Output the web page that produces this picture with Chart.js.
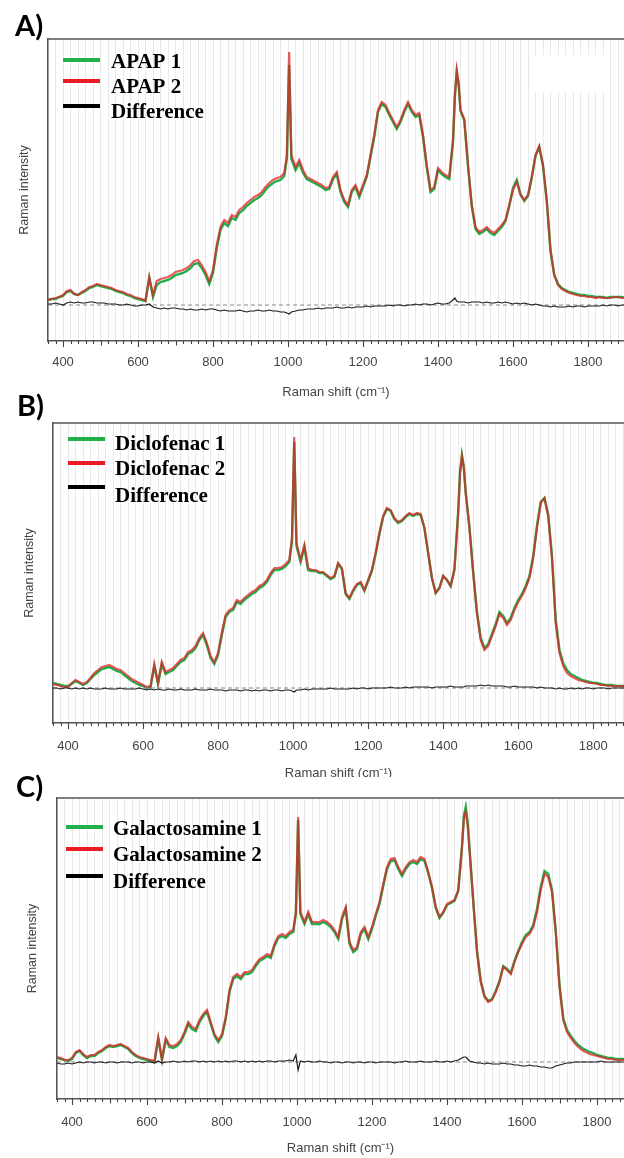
<!DOCTYPE html>
<html>
<head>
<meta charset="utf-8">
<script src="https://cdn.jsdelivr.net/npm/chart.js@4.4.0/dist/chart.umd.min.js"></script>
<style>
  html, body { margin: 0; padding: 0; background: #fff; }
  body { width: 624px; height: 1158px; position: relative; overflow: hidden; }
  .panel { position: absolute; left: 0; width: 624px; }
  .panel canvas { display: block; }
  #pA { top: 0; height: 400px; z-index: 1; }
  #pB { top: 400px; height: 390px; z-index: 2; }
  #pC { top: 777px; height: 381px; z-index: 3; background: #fff; }
  .tag { position: absolute; z-index: 5; font-family: 'Lato', 'Open Sans', 'Liberation Sans', sans-serif;
         font-weight: 700; font-size: 29px; line-height: 28px; color: #000; }
</style>
</head>
<body>
<div class="panel" id="pA"><canvas id="chartA" width="624" height="400"></canvas></div>
<div class="panel" id="pB"><canvas id="chartB" width="624" height="390"></canvas></div>
<div class="panel" id="pC"><canvas id="chartC" width="624" height="381"></canvas></div>
<div class="tag" style="left:15px;top:11px">A)</div>
<div class="tag" style="left:17px;top:391px">B)</div>
<div class="tag" style="left:16px;top:772px">C)</div>

<script>
// Raman shift sampling (cm-1), shared by all three panels
const ramanShift = [
  360, 370, 380, 390, 400, 410, 420, 430, 440, 450,
  460, 470, 480, 490, 500, 510, 520, 530, 540, 550,
  560, 570, 580, 590, 600, 610, 620, 630, 640, 650,
  660, 670, 680, 690, 700, 710, 720, 730, 740, 750,
  760, 770, 780, 790, 800, 810, 820, 830, 840, 850,
  860, 870, 880, 890, 900, 910, 920, 930, 940, 950,
  960, 970, 980, 990, 997, 1003, 1009, 1020, 1030, 1040,
  1050, 1060, 1070, 1080, 1090, 1100, 1110, 1120, 1130, 1140,
  1150, 1160, 1170, 1180, 1190, 1200, 1210, 1220, 1230, 1240,
  1250, 1260, 1270, 1280, 1290, 1300, 1310, 1320, 1330, 1340,
  1350, 1360, 1370, 1380, 1390, 1400, 1410, 1420, 1430, 1440,
  1445, 1450, 1455, 1460, 1470, 1480, 1490, 1500, 1510, 1520,
  1530, 1540, 1550, 1560, 1570, 1580, 1590, 1600, 1610, 1620,
  1630, 1640, 1650, 1660, 1670, 1680, 1690, 1700, 1710, 1720,
  1730, 1740, 1750, 1760, 1770, 1780, 1790, 1800, 1810, 1820,
  1830, 1840, 1850, 1860, 1870, 1880, 1890, 1900
];

// Panel A — APAP
const apap1 = [
  5, 6, 6, 8, 9, 13, 14, 11, 10, 12,
  14, 17, 18, 20, 19, 18, 17, 16, 14, 13,
  12, 10, 9, 7, 6, 5, 4, 27, 8, 20,
  23, 24, 25, 27, 30, 31, 32, 34, 37, 41,
  42, 37, 30, 21, 32, 57, 75, 82, 79, 87,
  85, 92, 95, 99, 102, 105, 107, 110, 115, 119,
  122, 124, 125, 129, 146, 240, 146, 135, 142, 132,
  126, 124, 122, 120, 118, 115, 116, 126, 131, 113,
  103, 98, 113, 118, 108, 118, 128, 148, 168, 193,
  201, 198, 190, 183, 176, 183, 193, 201, 193, 188,
  190, 168, 138, 113, 116, 135, 131, 128, 126, 163,
  208, 233, 221, 194, 185, 139, 99, 76, 71, 73,
  76, 72, 70, 74, 78, 84, 99, 117, 125, 111,
  104, 109, 127, 149, 158, 139, 104, 54, 30, 21,
  17, 15, 13, 12, 11, 10, 10, 9, 9, 8,
  8, 8, 7, 8, 8, 8, 8, 7
];
const apap2 = [
  5, 6, 7, 8, 10, 14, 15, 11, 10, 13,
  15, 18, 19, 21, 20, 19, 18, 17, 15, 14,
  13, 11, 10, 8, 7, 6, 4, 28, 10, 24,
  26, 27, 28, 30, 33, 34, 35, 37, 40, 44,
  45, 40, 33, 24, 35, 60, 78, 85, 82, 90,
  88, 95, 98, 102, 105, 108, 110, 113, 118, 122,
  125, 127, 128, 132, 150, 253, 150, 138, 145, 135,
  128, 126, 124, 122, 120, 117, 118, 128, 133, 115,
  105, 100, 115, 120, 110, 120, 130, 150, 170, 195,
  203, 200, 192, 185, 178, 185, 195, 203, 195, 190,
  192, 170, 140, 115, 118, 137, 133, 130, 128, 165,
  210, 235, 222, 195, 186, 140, 100, 78, 73, 75,
  78, 74, 72, 76, 80, 85, 100, 115, 123, 110,
  105, 110, 128, 150, 159, 140, 105, 55, 30, 20,
  16, 14, 12, 11, 10, 9, 9, 8, 8, 7,
  8, 7, 7, 7, 8, 8, 7, 7
];
const apapDiff = [
  1, 1, 2, 1, 0, 2, 3, 2, 3, 2,
  2, 3, 3, 2, 2, 2, 1, 1, 1, 0,
  0, 1, 0, -1, -1, 0, 0, 1, -2, -3,
  -4, -3, -4, -3, -3, -4, -4, -5, -4, -5,
  -5, -4, -5, -4, -4, -5, -6, -5, -6, -6,
  -6, -5, -6, -7, -6, -6, -5, -6, -6, -5,
  -6, -6, -7, -7, -8, -9, -7, -6, -5, -5,
  -4, -4, -4, -3, -4, -3, -3, -3, -2, -3,
  -3, -2, -3, -2, -2, -2, -1, -2, -1, -1,
  -1, -1, 0, -1, 0, 0, -1, 0, 0, 1,
  0, 1, 1, 0, 1, 2, 1, 1, 2, 5,
  7, 4, 3, 3, 3, 2, 3, 3, 3, 2,
  3, 2, 2, 3, 2, 3, 2, 1, 2, 1,
  2, 1, 0, 1, 0, -1, -1, -2, -1, -2,
  -2, -2, -1, -2, -1, -1, -2, -1, -1, -1,
  -1, 0, -1, 0, 0, -1, 0, 0
];

// Panel B — Diclofenac
const diclofenac1 = [
  5, 4, 3, 2, 2, 4, 7, 5, 3, 5,
  9, 13, 16, 19, 20, 21, 19, 17, 16, 13,
  10, 7, 5, 3, 2, 0, 1, 22, 4, 24,
  14, 16, 18, 22, 26, 28, 34, 36, 40, 48,
  53, 43, 30, 24, 33, 53, 71, 76, 78, 86,
  84, 88, 91, 94, 96, 100, 102, 106, 113, 118,
  118, 119, 122, 126, 147, 246, 142, 126, 141, 118,
  117, 117, 115, 115, 112, 109, 111, 124, 119, 94,
  89, 97, 103, 105, 97, 107, 117, 134, 154, 171,
  179, 177, 169, 165, 167, 171, 174, 172, 174, 173,
  160, 135, 110, 95, 100, 112, 108, 102, 119, 176,
  216, 233, 221, 196, 161, 116, 76, 50, 40, 44,
  54, 64, 76, 72, 65, 70, 80, 88, 94, 102,
  112, 132, 162, 186, 190, 173, 132, 68, 38, 25,
  18, 14, 12, 10, 8, 7, 6, 5, 5, 4,
  3, 3, 3, 2, 2, 2, 2, 2
];
const diclofenac2 = [
  4, 3, 2, 1, 1, 5, 8, 6, 4, 6,
  10, 15, 18, 21, 22, 23, 21, 19, 18, 15,
  12, 9, 7, 5, 3, 1, 2, 24, 5, 26,
  16, 18, 20, 24, 28, 30, 36, 38, 42, 50,
  55, 45, 32, 26, 35, 55, 73, 78, 80, 88,
  86, 90, 93, 96, 98, 102, 104, 108, 115, 120,
  120, 121, 124, 128, 150, 251, 145, 128, 143, 120,
  118, 118, 116, 116, 113, 110, 112, 125, 120, 95,
  90, 98, 104, 106, 98, 108, 118, 135, 155, 172,
  180, 178, 170, 166, 168, 172, 175, 173, 175, 174,
  160, 135, 110, 95, 100, 112, 108, 102, 118, 175,
  215, 232, 220, 195, 160, 115, 75, 48, 38, 42,
  52, 62, 74, 70, 63, 68, 78, 86, 92, 100,
  110, 130, 160, 185, 190, 172, 130, 65, 35, 22,
  15, 12, 10, 8, 7, 6, 5, 5, 4, 3,
  3, 2, 2, 2, 2, 2, 2, 2
];
const diclofenacDiff = [
  0, 0, -1, 0, 0, -1, 0, -1, 0, -1,
  0, -1, -1, -1, 0, -1, -1, -1, 0, -1,
  -1, -1, -1, 0, -1, -2, -1, -2, -1, -2,
  -2, -1, -2, -2, -1, -2, -2, -2, -1, -2,
  -2, -2, -1, -2, -2, -2, -3, -2, -2, -2,
  -3, -2, -2, -3, -2, -3, -2, -2, -3, -2,
  -2, -3, -2, -2, -3, -4, -2, -2, -1, -2,
  -1, -1, -1, -1, -1, 0, -1, -1, -1, -1,
  -1, 0, -1, 0, 0, -1, 0, 0, 0, 0,
  0, 1, 0, 0, 0, 1, 0, 1, 1, 1,
  1, 1, 0, 1, 1, 1, 1, 2, 1, 1,
  1, 1, 1, 2, 2, 2, 2, 3, 2, 3,
  2, 2, 2, 2, 1, 1, 2, 1, 1, 1,
  1, 1, 0, 1, 0, 0, 0, -1, 0, -1,
  -1, 0, -1, 0, -1, 0, 0, -1, 0, 0,
  0, -1, 0, 0, 0, 0, 0, 0
];

// Panel C — Galactosamine
const galactosamine1 = [
  4, 3, 2, 1, 3, 9, 11, 7, 4, 6,
  6, 9, 11, 14, 16, 15, 16, 17, 15, 13,
  9, 6, 4, 3, 2, 1, 0, 23, 2, 22,
  15, 14, 16, 20, 28, 38, 33, 31, 40, 46,
  50, 38, 26, 20, 26, 43, 70, 83, 86, 83,
  88, 88, 90, 96, 101, 103, 106, 104, 116, 124,
  126, 124, 128, 130, 148, 242, 148, 138, 148, 138,
  138, 138, 140, 138, 135, 130, 123, 143, 153, 118,
  110, 113, 128, 133, 123, 133, 146, 158, 176, 193,
  201, 202, 193, 186, 193, 198, 200, 198, 203, 201,
  189, 174, 154, 144, 149, 157, 159, 161, 171, 216,
  246, 255, 240, 214, 161, 111, 81, 66, 61, 63,
  71, 81, 96, 93, 89, 101, 111, 120, 127, 130,
  137, 153, 175, 191, 188, 172, 131, 77, 44, 32,
  26, 21, 17, 14, 12, 10, 9, 7, 6, 5,
  4, 4, 3, 3, 3, 3, 3, 3
];
const galactosamine2 = [
  5, 4, 2, 2, 4, 10, 12, 8, 5, 7,
  7, 10, 12, 15, 17, 16, 17, 18, 16, 14,
  10, 7, 5, 4, 3, 2, 1, 25, 3, 24,
  17, 16, 18, 22, 30, 40, 35, 33, 42, 48,
  52, 40, 28, 22, 28, 45, 72, 85, 88, 85,
  90, 90, 92, 98, 103, 105, 108, 106, 118, 126,
  128, 126, 130, 132, 150, 245, 150, 140, 150, 140,
  140, 140, 142, 140, 137, 132, 125, 145, 155, 120,
  112, 115, 130, 135, 125, 135, 148, 160, 178, 195,
  203, 204, 195, 188, 195, 200, 202, 200, 205, 203,
  190, 175, 155, 145, 150, 158, 160, 162, 172, 215,
  243, 250, 237, 212, 160, 110, 80, 65, 60, 62,
  70, 80, 95, 92, 88, 100, 110, 118, 125, 128,
  135, 150, 172, 188, 185, 170, 130, 75, 42, 30,
  24, 19, 15, 12, 10, 8, 7, 6, 5, 4,
  3, 3, 2, 2, 2, 2, 2, 2
];
const galactosamineDiff = [
  -1, -2, -2, -1, -2, -1, 0, -1, 0, 0,
  -1, 0, 0, -1, 0, 0, -1, 0, 0, 0,
  -1, 0, 0, -1, 0, 0, -1, 1, -1, 0,
  0, 1, 0, 0, 1, 0, 1, 1, 0, 1,
  0, 1, 0, 1, 0, 1, 0, 1, 1, 0,
  1, 0, 1, 0, 1, 0, 1, 1, 0, 1,
  1, 1, 2, 1, 7, -8, 1, 0, 1, 0,
  0, 1, 0, 0, -1, 0, 0, -1, 0, 0,
  -1, 0, 0, -1, 0, 0, -1, 0, 0, 0,
  0, -1, 0, 0, 1, 0, 0, 0, 1, 0,
  0, 0, 1, 0, 0, 1, 0, 1, 2, 4,
  5, 5, 3, 1, 0, -1, -1, -2, -1, -2,
  -2, -2, -1, -2, -2, -3, -3, -4, -4, -3,
  -4, -4, -5, -5, -6, -6, -4, -3, -2, -1,
  -1, 0, 0, 0, 0, 0, 0, 0, 1, 0,
  0, 0, 0, 0, 0, 0, 0, 0
];

// Labelled positions on the Raman shift axis
const majorTicks = [400, 600, 800, 1000, 1200, 1400, 1600, 1800];
const shiftRange = [360, 1900];

const GREEN = '#22b04b';
const RED = '#ed1c24';
const FRAME = '#555555';
const TEXT = '#444444';

const toPoints = (xs, ys) => xs.map((x, i) => ({ x, y: ys[i] }));

// Plot frame: top edge, minor/major tick marks under the x axis, the inset legend
const framePlugin = {
  id: 'frame',
  beforeDatasetsDraw(chart, args, opts) {
    const { ctx, chartArea: a } = chart;
    (opts.blanks || []).forEach(b => {
      ctx.save();
      ctx.fillStyle = '#ffffff';
      ctx.fillRect(a.left + b[0], a.top + b[1], b[2], b[3]);
      ctx.restore();
    });
  },
  afterDraw(chart, args, opts) {
    const { ctx, chartArea: a, scales: { x } } = chart;
    ctx.save();
    ctx.strokeStyle = FRAME;
    ctx.lineWidth = 1.5;
    ctx.beginPath();
    ctx.moveTo(a.left - 0.75, a.top);
    ctx.lineTo(a.right, a.top);
    ctx.stroke();

    ctx.lineWidth = 1.1;
    ctx.strokeStyle = '#444';
    ctx.beginPath();
    for (let v = Math.ceil(x.min / 20) * 20; v <= x.max; v += 20) {
      const px = Math.round(x.getPixelForValue(v)) + 0.5;
      const len = v % 200 === 0 ? 6 : (v % 100 === 0 ? 4.5 : 3);
      ctx.moveTo(px, a.bottom);
      ctx.lineTo(px, a.bottom + len);
    }
    ctx.stroke();

    // legend inside the plot
    const lg = opts.legend;
    const items = chart.data.datasets
      .filter(d => d.legendRank !== undefined)
      .sort((p, q) => p.legendRank - q.legendRank);
    ctx.font = 'bold 21px "Liberation Serif", "Times New Roman", serif';
    ctx.textBaseline = 'middle';
    ctx.textAlign = 'left';
    items.forEach((d, i) => {
      const row = lg.rows[i];
      ctx.fillStyle = d.legendColor;
      ctx.fillRect(a.left + lg.lineX, a.top + row[0] - 2, lg.lineLen, 4);
      ctx.fillStyle = '#000';
      ctx.fillText(d.label, a.left + lg.textX, a.top + row[1]);
    });
    ctx.restore();
  }
};

function makeSpectrumChart(id, p) {
  const datasets = [
    {
      label: 'Difference', data: toPoints(ramanShift, p.diff),
      borderColor: '#1a1a1a', borderWidth: 1.2, legendRank: 2, legendColor: '#000'
    },
    {
      label: 'zero', data: toPoints(shiftRange, [0, 0]),
      borderColor: '#8a8a8a', borderWidth: 1, borderDash: [4, 3]
    },
    {
      label: p.names[1], data: toPoints(ramanShift, p.s2),
      borderColor: 'rgba(225,30,36,0.72)', borderWidth: 2.2, legendRank: 1, legendColor: RED
    },
    {
      label: p.names[0], data: toPoints(ramanShift, p.s1),
      borderColor: GREEN, borderWidth: 2.4, legendRank: 0, legendColor: GREEN
    }
  ];
  datasets.forEach(d => { d.pointRadius = 0; d.tension = 0; d.fill = false; });

  return new Chart(document.getElementById(id), {
    type: 'line',
    data: { datasets },
    options: {
      responsive: false,
      animation: false,
      events: [],
      layout: { autoPadding: false, padding: { top: p.padTop, left: 0, right: 0, bottom: 0 } },
      plugins: {
        legend: { display: false },
        tooltip: { enabled: false },
        frame: { legend: p.legend, blanks: p.blanks }
      },
      scales: {
        x: {
          type: 'linear',
          position: 'bottom',
          min: shiftRange[0],
          max: p.xMax,
          afterFit: s => {
            s.height = p.xAxisHeight;
            s.paddingLeft = 0;
            s.paddingRight = 0;
          },
          ticks: {
            stepSize: 20,
            autoSkip: false,
            maxRotation: 0,
            includeBounds: false,
            padding: p.tickPad,
            color: TEXT,
            font: { family: '"Liberation Sans", Arial, sans-serif', size: 13 },
            callback: v => (majorTicks.includes(v) ? String(v) : '')
          },
          grid: { color: 'rgba(0,0,0,0.085)', lineWidth: 1, drawTicks: false },
          border: { color: FRAME, width: 1.5 },
          title: {
            display: true,
            text: 'Raman shift (cm\u207B\u00B9)',
            color: TEXT,
            font: { family: '"Liberation Sans", Arial, sans-serif', size: 13 },
            padding: { top: 0, bottom: p.titlePad }
          }
        },
        y: {
          type: 'linear',
          position: 'left',
          min: p.yMin,
          max: p.yMax,
          afterFit: s => {
            s.width = p.yAxisWidth;
            s.paddingTop = 0;
            s.paddingBottom = 0;
          },
          ticks: { display: false },
          grid: { display: false, drawTicks: false },
          border: { color: FRAME, width: 1.5 },
          title: {
            display: true,
            text: 'Raman intensity',
            color: TEXT,
            font: { family: '"Liberation Sans", Arial, sans-serif', size: 12.5 },
            padding: { top: p.yTitlePad, bottom: 0 }
          }
        }
      }
    },
    plugins: [framePlugin]
  });
}

makeSpectrumChart('chartA', {
  names: ['APAP 1', 'APAP 2'], s1: apap1, s2: apap2, diff: apapDiff,
  xMax: 1896, yMin: -36, yMax: 266,
  padTop: 39, xAxisHeight: 59, yAxisWidth: 48, tickPad: 14, titlePad: 0, yTitlePad: 17,
  legend: { lineX: 15, lineLen: 37, textX: 63, rows: [[21, 24], [42, 49], [67, 74]] },
  blanks: [[482, 16, 78, 37]]
});

makeSpectrumChart('chartB', {
  names: ['Diclofenac 1', 'Diclofenac 2'], s1: diclofenac1, s2: diclofenac2, diff: diclofenacDiff,
  xMax: 1882, yMin: -35, yMax: 265,
  padTop: 23, xAxisHeight: 67, yAxisWidth: 53, tickPad: 16, titlePad: 9, yTitlePad: 22,
  legend: { lineX: 15, lineLen: 37, textX: 62, rows: [[16, 22], [40, 47], [64, 74]] }
});

makeSpectrumChart('chartC', {
  names: ['Galactosamine 1', 'Galactosamine 2'], s1: galactosamine1, s2: galactosamine2, diff: galactosamineDiff,
  xMax: 1872, yMin: -37, yMax: 264,
  padTop: 21, xAxisHeight: 59, yAxisWidth: 57, tickPad: 16, titlePad: 2, yTitlePad: 25,
  legend: { lineX: 9, lineLen: 37, textX: 56, rows: [[29, 32], [51, 58], [78, 85]] }
});
</script>
</body>
</html>
